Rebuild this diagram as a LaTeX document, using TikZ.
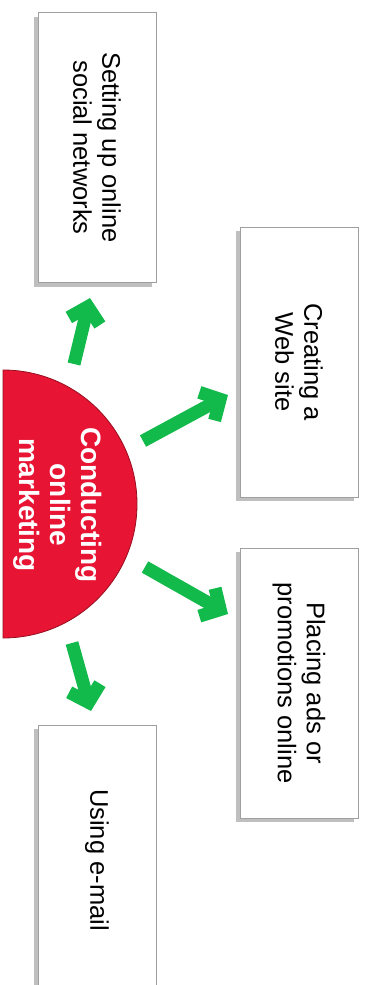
\documentclass[tikz,border=0pt]{standalone}
\usepackage{fontspec}
\setmainfont{Liberation Sans}
\usetikzlibrary{arrows.meta}
\usetikzlibrary{shadows}
\definecolor{hubred}{RGB}{232,20,52}
\definecolor{hubedge}{RGB}{150,15,30}
\definecolor{gogreen}{RGB}{18,186,76}
\tikzset{
        % Activity boxes
        node_task/.style={rectangle, align=center, rotate=-90, draw=gray!75, line width=0.8pt, fill=white,
            minimum width=270pt, minimum height=118pt, inner sep=0pt,
            font=\fontsize{25.5}{29}\selectfont,
            drop shadow={shadow xshift=-4pt, shadow yshift=-4pt, fill=black, opacity=0.25}},
        % Central label
        node_hub/.style={align=center, rotate=-90, text=white, inner sep=0pt,
            font=\bfseries\fontsize{28}{31}\selectfont},
        % Green arrows
        arrow_go/.style={draw=gogreen, line width=13pt, -{Straight Barb[sharp, length=15pt, width=32pt]}}
}

\begin{document}
\begin{tikzpicture}[x=1pt, y=-1pt]
    \useasboundingbox (0,0) rectangle (367,985);
    % half disc
    \filldraw[fill=hubred, draw=hubedge, line width=0.8pt]
        (3,370) arc[start angle=-90, end angle=90, radius=134] -- cycle;
    \node[node_hub] (hub) at (58,505) {Conducting\\online\\marketing};

    \node[node_task] (social) at (97,147.5) {Setting up online\\social networks};
    \node[node_task] (web)    at (299,362)  {Creating a\\Web site};
    \node[node_task] (ads)    at (299,683)  {Placing ads or\\promotions online};
    \node[node_task] (email)  at (97,860)   {Using e-mail};

    % arrow ends
    \coordinate (s1) at (74,364);  \coordinate (e1) at (90,298);
    \coordinate (s2) at (143,441); \coordinate (e2) at (228,395);
    \coordinate (s3) at (145,567); \coordinate (e3) at (228,614);
    \coordinate (s4) at (72,643);  \coordinate (e4) at (91,711);

    \draw[arrow_go] (s1) -- (e1);
    \draw[arrow_go] (s2) -- (e2);
    \draw[arrow_go] (s3) -- (e3);
    \draw[arrow_go] (s4) -- (e4);
\end{tikzpicture}
\end{document}
